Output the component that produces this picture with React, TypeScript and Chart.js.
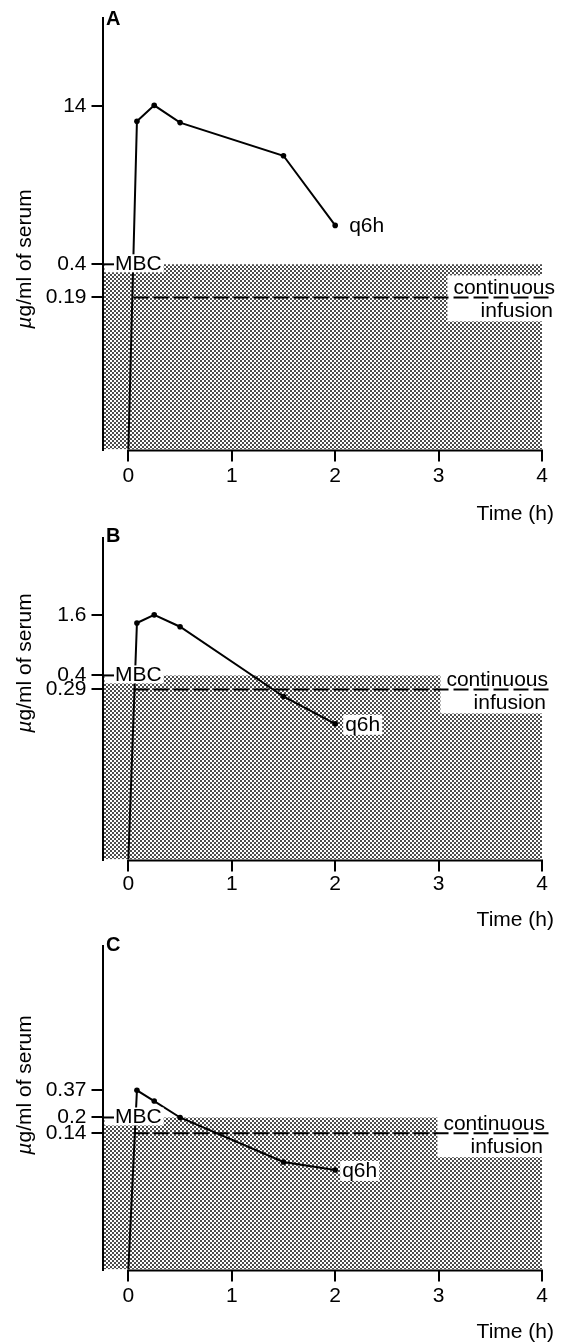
import React, { useEffect, useRef } from 'react';
import { Chart, registerables } from 'chart.js';

Chart.register(...registerables);

const FAMILY = '"Liberation Sans", Arial, Helvetica, sans-serif';

// ---- shared data ----
const sampleTimes = [0, 0.083, 0.25, 0.5, 1.5, 2];
const xTickValues = [0, 1, 2, 3, 4];
const xTickLabels = ['0', '1', '2', '3', '4'];
const timeRange = [-0.25, 4];
const infusionSpan = [0.05, 4.08];
const shadeSpan = [-0.25, 4];

const yTitleMu = 'µ';
const yTitleRest = 'g/ml of serum';
const xTitle = 'Time (h)';
const mbcText = 'MBC';
const infusionText1 = 'continuous';
const infusionText2 = 'infusion';
const regimenText = 'q6h';

// ---- panel A ----
const concA = [0.0062, 10.0, 14.3, 9.7, 4.6, 0.96];
const yTicksA = [14, 0.4, 0.19];
const yLabelsA = ['14', '0.4', '0.19'];
const mbcA = 0.4;
const infusionA = 0.19;
const yRangeA = [0.0062, 103];

// ---- panel B ----
const concB = [0.0059, 1.33, 1.6, 1.22, 0.247, 0.132];
const yTicksB = [1.6, 0.4, 0.29];
const yLabelsB = ['1.6', '0.4', '0.29'];
const mbcB = 0.4;
const infusionB = 0.29;
const yRangeB = [0.0059, 9.4];

// ---- panel C ----
const concC = [0.0064, 0.37, 0.29, 0.2, 0.073, 0.061];
const yTicksC = [0.37, 0.2, 0.14];
const yLabelsC = ['0.37', '0.2', '0.14'];
const mbcC = 0.2;
const infusionC = 0.14;
const yRangeC = [0.0064, 9.8];

type Layout = {
  top: number;
  height: number;
  areaTop: number;
  areaBottom: number;
  letterBase: number;
  titleY: number;
  timeBase: number;
  contRight: number;
  qDx: number;
  xPad: number;
};

type PanelProps = {
  letter: string;
  conc: number[];
  yTicks: number[];
  yLabels: string[];
  mbc: number;
  infusion: number;
  yRange: number[];
  layout: Layout;
};

function Panel(p: PanelProps) {
  const ref = useRef<HTMLCanvasElement>(null);
  const L = p.layout;

  useEffect(() => {
    const canvas = ref.current!;
    const tile = document.createElement('canvas');
    tile.width = 4;
    tile.height = 4;
    const tc = tile.getContext('2d')!;
    tc.fillStyle = '#000';
    tc.beginPath();
    tc.arc(1, 1, 0.95, 0, Math.PI * 2);
    tc.fill();
    tc.beginPath();
    tc.arc(3, 3, 0.95, 0, Math.PI * 2);
    tc.fill();
    const pattern = canvas.getContext('2d')!.createPattern(tile, 'repeat')!;

    const labelFont = `21px ${FAMILY}`;

    const annot = {
      id: 'annot',
      afterDatasetDraw(chart: any, args: any) {
        if (args.index !== 2) return;
        const ctx = chart.ctx;
        const y = chart.scales.y.getPixelForValue(p.infusion);
        ctx.save();
        ctx.font = labelFont;
        const w = ctx.measureText(infusionText1).width;
        const left = L.contRight - w - 6;
        ctx.fillStyle = '#fff';
        ctx.fillRect(left, y - 22, chart.chartArea.right + 2 - left, 46);
        ctx.restore();
      },
      afterDatasetsDraw(chart: any) {
        const ctx = chart.ctx;
        const area = chart.chartArea;
        const xs = chart.scales.x;
        const ys = chart.scales.y;
        ctx.save();
        ctx.fillStyle = '#000';
        ctx.strokeStyle = '#000';

        // x axis line from 0 to 4
        ctx.lineWidth = 2;
        ctx.beginPath();
        ctx.moveTo(xs.getPixelForValue(xTickValues[0]) - 1, area.bottom + 1);
        ctx.lineTo(xs.getPixelForValue(xTickValues[xTickValues.length - 1]) + 1, area.bottom + 1);
        ctx.stroke();

        // MBC label
        ctx.font = labelFont;
        const yM = ys.getPixelForValue(p.mbc);
        const mx = 115;
        const mw = ctx.measureText(mbcText).width;
        ctx.fillStyle = '#fff';
        ctx.fillRect(area.left + 2, yM - 10, mx + mw + 2 - (area.left + 2), 18);
        ctx.fillStyle = '#000';
        ctx.beginPath();
        ctx.moveTo(area.left, yM);
        ctx.lineTo(mx - 1, yM);
        ctx.stroke();
        ctx.textAlign = 'left';
        ctx.textBaseline = 'alphabetic';
        ctx.fillText(mbcText, mx, yM + 6);

        // continuous infusion labels
        const yI = ys.getPixelForValue(p.infusion);
        ctx.textAlign = 'right';
        ctx.fillText(infusionText1, L.contRight, yI - 3.5);
        ctx.fillText(infusionText2, L.contRight - 2, yI + 20);

        // q6h label
        const last = p.conc.length - 1;
        const qx = xs.getPixelForValue(sampleTimes[last]) + L.qDx;
        const qy = ys.getPixelForValue(p.conc[last]) + 1;
        const qw = ctx.measureText(regimenText).width;
        ctx.fillStyle = '#fff';
        ctx.fillRect(qx - 2, qy - 10, qw + 4, 20);
        ctx.fillStyle = '#000';
        ctx.textAlign = 'left';
        ctx.textBaseline = 'middle';
        ctx.fillText(regimenText, qx, qy);

        // panel letter
        ctx.font = `bold 20px ${FAMILY}`;
        ctx.textBaseline = 'alphabetic';
        ctx.fillText(p.letter, 106, L.letterBase);

        // time title
        ctx.font = labelFont;
        ctx.textAlign = 'right';
        ctx.fillText(xTitle, 554, L.timeBase);

        // y title
        ctx.translate(25, L.titleY);
        ctx.rotate(-Math.PI / 2);
        ctx.textBaseline = 'middle';
        ctx.textAlign = 'left';
        const f1 = `italic 21px ${FAMILY}`;
        ctx.font = f1;
        const w1 = ctx.measureText(yTitleMu).width;
        ctx.font = labelFont;
        const w2 = ctx.measureText(yTitleRest).width;
        const start = -(w1 + w2) / 2;
        ctx.font = f1;
        ctx.fillText(yTitleMu, start, 0);
        ctx.font = labelFont;
        ctx.fillText(yTitleRest, start + w1, 0);
        ctx.restore();
      },
    };

    const chart = new Chart(canvas, {
      type: 'line',
      data: {
        datasets: [
          {
            data: sampleTimes.map((t, i) => ({ x: t, y: p.conc[i] })),
            borderColor: '#000',
            borderWidth: 2,
            pointRadius: sampleTimes.map((_, i) => (i === 0 ? 0 : 2.8)),
            pointBackgroundColor: '#000',
            pointBorderWidth: 0,
            tension: 0,
            order: 1,
            clip: false as any,
          },
          {
            data: infusionSpan.map((t) => ({ x: t, y: p.infusion })),
            borderColor: '#000',
            borderWidth: 2,
            borderDash: [15, 5],
            pointRadius: 0,
            order: 2,
            clip: false as any,
          },
          {
            data: shadeSpan.map((t) => ({ x: t, y: p.mbc })),
            borderColor: 'rgba(0,0,0,0)',
            borderWidth: 0,
            pointRadius: 0,
            fill: 'start',
            backgroundColor: pattern as any,
            order: 3,
          },
        ],
      },
      options: {
        responsive: false,
        devicePixelRatio: 1,
        animation: false,
        events: [],
        layout: {
          autoPadding: false,
          padding: { left: 0, right: 19, top: L.areaTop, bottom: 0 },
        } as any,
        plugins: {
          legend: { display: false },
          tooltip: { enabled: false },
        },
        scales: {
          x: {
            type: 'linear',
            min: timeRange[0],
            max: timeRange[1],
            afterBuildTicks: (s: any) => {
              s.ticks = xTickValues.map((v) => ({ value: v }));
            },
            afterFit: (s: any) => {
              s.height = L.height - L.areaBottom;
            },
            ticks: {
              autoSkip: false,
              maxRotation: 0,
              padding: L.xPad,
              color: '#000',
              font: { family: FAMILY, size: 21 },
              callback: (v: any) => xTickLabels[xTickValues.indexOf(Number(v))] ?? '',
            },
            grid: {
              drawOnChartArea: false,
              drawTicks: true,
              tickLength: 12,
              color: '#000',
              lineWidth: 2,
            },
            border: { display: false },
          },
          y: {
            type: 'logarithmic',
            min: p.yRange[0],
            max: p.yRange[1],
            afterBuildTicks: (s: any) => {
              s.ticks = p.yTicks.map((v) => ({ value: v }));
            },
            afterFit: (s: any) => {
              s.width = 102.5;
            },
            ticks: {
              autoSkip: false,
              padding: 5,
              color: '#000',
              font: { family: FAMILY, size: 21 },
              callback: (v: any) => p.yLabels[p.yTicks.indexOf(Number(v))] ?? '',
            },
            grid: {
              drawOnChartArea: false,
              drawTicks: true,
              tickLength: 11,
              color: '#000',
              lineWidth: 2,
            },
            border: { display: true, color: '#000', width: 2 },
          },
        },
      },
      plugins: [annot as any],
    });
    return () => chart.destroy();
  }, []);

  return (
    <canvas
      ref={ref}
      width={561}
      height={L.height}
      style={{ position: 'absolute', left: 0, top: L.top, width: 561, height: L.height }}
    />
  );
}

export default function App() {
  return (
    <div style={{ position: 'absolute', left: 0, top: 0, width: 561, height: 1344, background: '#fff' }}>
      <Panel
        letter="A"
        conc={concA}
        yTicks={yTicksA}
        yLabels={yLabelsA}
        mbc={mbcA}
        infusion={infusionA}
        yRange={yRangeA}
        layout={{ top: 0, height: 525, areaTop: 10, areaBottom: 449.5, letterBase: 25, titleY: 259, timeBase: 520, contRight: 555, qDx: 14, xPad: 2 }}
      />
      <Panel
        letter="B"
        conc={concB}
        yTicks={yTicksB}
        yLabels={yLabelsB}
        mbc={mbcB}
        infusion={infusionB}
        yRange={yRangeB}
        layout={{ top: 520, height: 410, areaTop: 6.7, areaBottom: 339.5, letterBase: 22, titleY: 143, timeBase: 406, contRight: 548, qDx: 10, xPad: 0 }}
      />
      <Panel
        letter="C"
        conc={concC}
        yTicks={yTicksC}
        yLabels={yLabelsC}
        mbc={mbcC}
        infusion={infusionC}
        yRange={yRangeC}
        layout={{ top: 928, height: 416, areaTop: 5.3, areaBottom: 341.5, letterBase: 22.5, titleY: 157, timeBase: 410, contRight: 545, qDx: 7, xPad: 2 }}
      />
    </div>
  );
}
